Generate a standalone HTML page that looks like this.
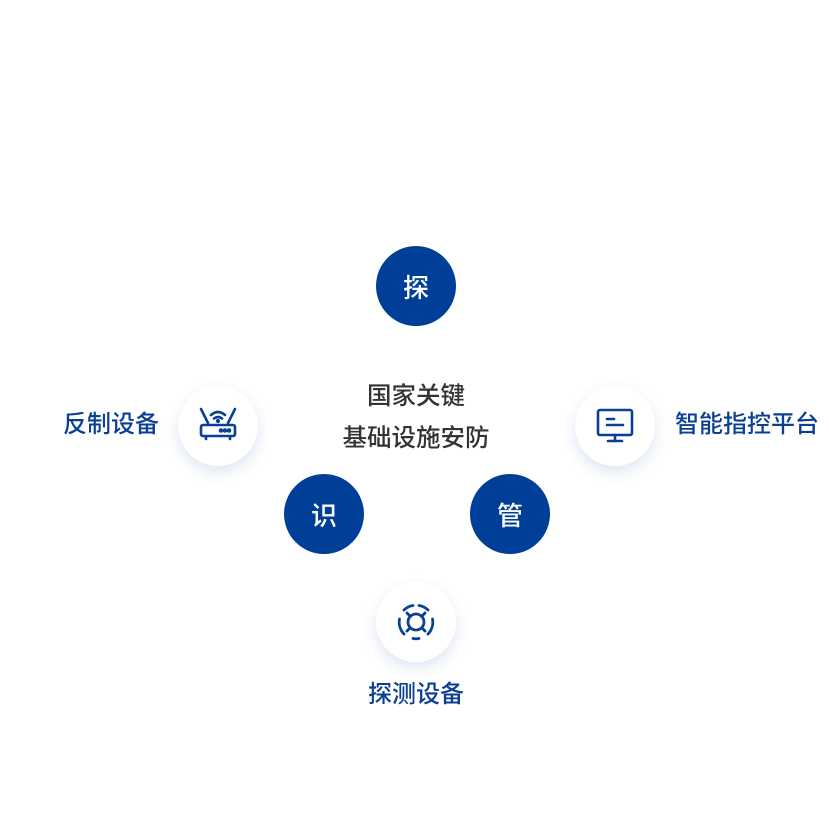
<!DOCTYPE html>
<html><head><meta charset="utf-8"><style>
body{margin:0;width:829px;height:829px;background:#fff;position:relative;overflow:hidden;font-family:"Liberation Sans","Noto Sans CJK SC",sans-serif}
.c{position:absolute;width:80px;height:80px;border-radius:50%;display:flex;align-items:center;justify-content:center}
.b{background:#003f98;color:#fff;font-size:26px;font-weight:500}
.w{background:#fff;box-shadow:0 6px 14px rgba(40,80,180,0.15)}
.t{position:absolute;font-size:24.5px;white-space:nowrap;line-height:1}
.lab{color:#0a3f93;font-weight:500;font-size:24px}
</style></head><body>
<div class="c b" style="left:376px;top:246px">探</div>
<div class="c b" style="left:284px;top:474px">识</div>
<div class="c b" style="left:470px;top:474px">管</div>
<div class="c w" style="left:178px;top:386px">
<svg width="40" height="40" viewBox="0 0 40 40" fill="none" stroke="#0a3f93" stroke-width="2.6" stroke-linecap="round">
<line x1="3" y1="3" x2="10" y2="17"/><line x1="37" y1="3" x2="30" y2="17"/>
<path d="M13 9 Q20 3 27 9"/><path d="M16 12.5 Q20 9.5 24 12.5"/><circle cx="20" cy="15" r="0.8" fill="#0a3f93"/>
<rect x="3" y="19" width="34" height="11" rx="2"/>
<circle cx="23" cy="24.5" r="1" fill="#0a3f93"/><circle cx="27" cy="24.5" r="1" fill="#0a3f93"/><circle cx="31" cy="24.5" r="1" fill="#0a3f93"/>
<line x1="8" y1="31" x2="8" y2="33"/><line x1="32" y1="31" x2="32" y2="33"/>
</svg></div>
<div class="c w" style="left:575px;top:386px">
<svg width="40" height="40" viewBox="0 0 40 40" fill="none" stroke="#0a3f93" stroke-width="2.6" stroke-linecap="round">
<rect x="3" y="4" width="34" height="25" rx="2"/>
<line x1="12" y1="13" x2="19" y2="13"/><line x1="12" y1="19" x2="28" y2="19"/>
<line x1="20" y1="29" x2="20" y2="35"/><line x1="13" y1="35" x2="27" y2="35"/>
</svg></div>
<div class="c w" style="left:376px;top:582px">
<svg width="40" height="40" viewBox="0 0 40 40" fill="none" stroke="#0a3f93" stroke-width="2.8" stroke-linecap="round">
<path d="M8 8 A17 17 0 0 1 17 3.5"/><path d="M23 3.5 A17 17 0 0 1 32 8"/>
<path d="M36.5 17 A17 17 0 0 1 32 32"/><path d="M23 36.5 A17 17 0 0 1 17 36.5"/>
<path d="M8 32 A17 17 0 0 1 3.5 17"/>
<circle cx="20" cy="20" r="8"/>
<line x1="11" y1="11" x2="14" y2="14"/><line x1="29" y1="11" x2="26" y2="14"/><line x1="11" y1="29" x2="14" y2="26"/><line x1="29" y1="29" x2="26" y2="26"/>
</svg></div>
<div class="t" style="left:0;width:832px;text-align:center;top:385px;color:#333;font-weight:500">国家关键</div>
<div class="t" style="left:0;width:832px;text-align:center;top:427px;color:#333;font-weight:500">基础设施安防</div>
<div class="t lab" style="left:63px;top:413px">反制设备</div>
<div class="t lab" style="left:675px;top:413px">智能指控平台</div>
<div class="t lab" style="left:0;width:832px;text-align:center;top:683px">探测设备</div>
</body></html>
